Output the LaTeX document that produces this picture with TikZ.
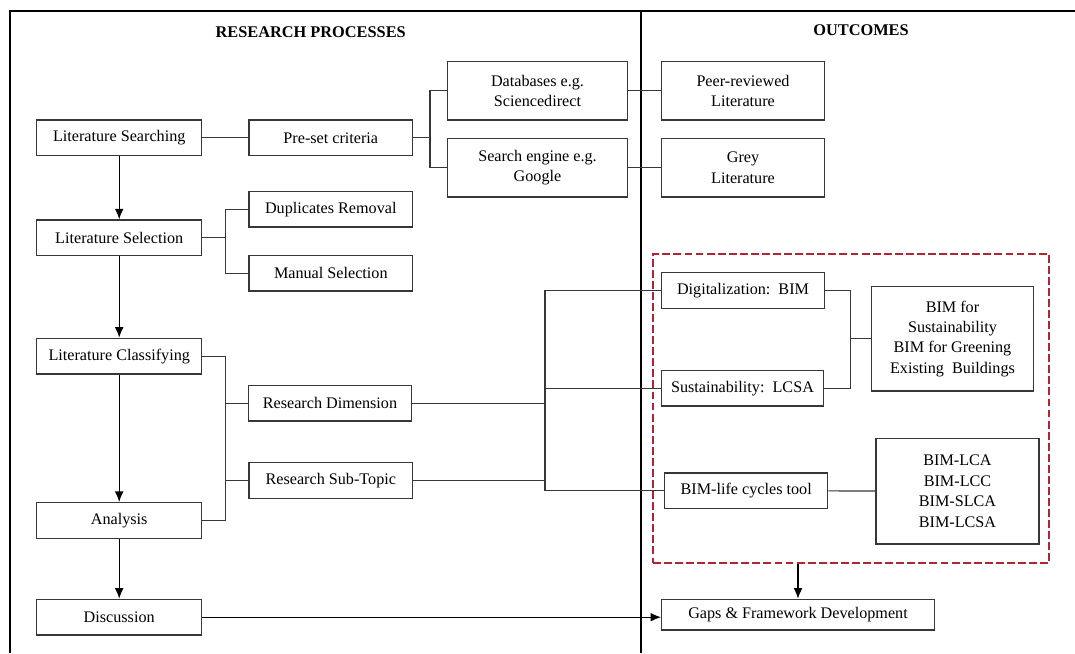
\documentclass[tikz,border=0pt]{standalone}
\usepackage{fontspec}
\setmainfont{Liberation Serif}
\usepackage{tikz}
\usetikzlibrary{arrows}
\usetikzlibrary{arrows.meta}
\usetikzlibrary{calc}
\usepackage{xcolor}

\definecolor{focusred}{RGB}{172,38,52}
\definecolor{linegray}{RGB}{55,55,55}

\tikzset{
  stage/.style={draw=linegray, line width=0.75pt, align=center, inner sep=1pt,
    minimum height=0.714cm, font=\fontsize{9.2}{11.6}\selectfont},
  wire/.style={draw=linegray, line width=0.65pt},
  flow/.style={draw=black, line width=0.7pt, -{Latex[length=6pt,width=5pt]}},
  heading/.style={font=\fontsize{9.3}{11}\selectfont\bfseries}
}

\begin{document}
\begin{tikzpicture}[x=0.02cm,y=-0.02cm]
\useasboundingbox (0,0) rectangle (1075,653);

% frame
\draw[line width=1.2pt] (10,653) -- (10,11) -- (1075,11);
\draw[line width=1.2pt] (641,11) -- (641,653);
\node[heading] (hproc) at (310.7,32) {RESEARCH PROCESSES};
\node[heading] (hout) at (861,30) {OUTCOMES};

% research processes
\node[stage, minimum width=3.3cm] (search) at (119.2,137.8) {Literature Searching};
\node[stage, minimum width=3.3cm] (select) at (119.2,237.8) {Literature Selection};
\node[stage, minimum width=3.3cm] (classify) at (119.2,356.2) {Literature Classifying};
\node[stage, minimum width=3.3cm] (analysis) at (119.2,520.5) {Analysis};
\node[stage, minimum width=3.3cm] (discuss) at (119.2,617.2) {Discussion};

\node[stage, minimum width=3.274cm] (preset) at (330.8,137.8) {Pre-set criteria};
\node[stage, minimum width=3.274cm] (dupl) at (330.8,209.2) {Duplicates Removal};
\node[stage, minimum width=3.274cm] (manual) at (330.8,273.3) {Manual Selection};
\node[stage, minimum width=3.274cm] (resdim) at (330,403.3) {Research Dimension};
\node[stage, minimum width=3.274cm] (subtopic) at (330.8,480.5) {Research Sub-Topic};

\node[stage, minimum width=3.592cm, minimum height=1.174cm] (databases) at (537.5,90.7) {Databases e.g.\\Sciencedirect};
\node[stage, minimum width=3.592cm, minimum height=1.174cm] (engine) at (537.5,167.7) {Search engine e.g.\\Google};

% outcomes
\node[stage, minimum width=3.252cm, minimum height=1.174cm] (peer) at (743,90.7) {Peer-reviewed\\Literature};
\node[stage, minimum width=3.252cm, minimum height=1.174cm] (grey) at (743,167.7) {Grey\\Literature};

\node[draw=focusred, line width=1pt, dash pattern=on 4.5pt off 1.8pt,
  minimum width=7.932cm, minimum height=6.186cm] (focus) at (851,408.7) {};

\node[stage, minimum width=3.252cm] (digital) at (743,290.5) {Digitalization:\ \ BIM};
\node[stage, minimum width=3.232cm] (lcsa) at (742.5,388.3) {Sustainability:\ \ LCSA};
\node[stage, minimum width=3.26cm] (lifetool) at (746.2,490.7) {BIM-life cycles tool};
\node[stage, minimum width=3.232cm, minimum height=2.086cm] (bimsus) at (952.5,338.8)
  {BIM for\\Sustainability\\BIM for Greening\\Existing\ \ Buildings};
\node[stage, minimum width=3.26cm, minimum height=2.114cm] (bimlca) at (957.5,491.2)
  {BIM-LCA\\BIM-LCC\\BIM-SLCA\\BIM-LCSA};
\node[stage, minimum width=5.452cm, minimum height=0.614cm] (gaps) at (798,614.7) {Gaps \& Framework Development};

% junctions
\coordinate (jpre) at (430,137.8);
\coordinate (jsel) at (225.3,237.8);
\coordinate (jcls) at (225.3,403.3);
\coordinate (jmid) at (545,403.3);
\coordinate (jbim) at (850.7,338.8);

% connectors
\draw[wire] (search) -- (preset);
\draw[wire] (preset) -- (jpre);
\draw[wire] (databases.west) -| (jpre);
\draw[wire] (engine.west) -| (jpre);
\draw[wire] (databases) -- (peer);
\draw[wire] (engine) -- (grey);

\draw[wire] (select) -- (jsel);
\draw[wire] (dupl.west) -| (jsel);
\draw[wire] (manual.west) -| (jsel);

\draw[wire] (classify.east) -| (jcls);
\draw[wire] (analysis.east) -| (jcls);
\draw[wire] (resdim) -- (jcls);
\draw[wire] (subtopic.west) -| (jcls);

\draw[wire] (resdim) -- (jmid);
\draw[wire] (subtopic.east) -| (jmid);
\draw[wire] (digital.west) -| (jmid);
\draw[wire] (lcsa.west) -| (jmid);
\draw[wire] (lifetool.west) -| (jmid);

\draw[wire] (digital.east) -| (jbim);
\draw[wire] (lcsa.east) -| (jbim);
\draw[wire] (jbim) -- (bimsus);
\draw[wire] (lifetool) -- (bimlca);

\draw[flow] (search) -- (select);
\draw[flow] (select) -- (classify);
\draw[flow] (classify) -- (analysis);
\draw[flow] (analysis) -- (discuss);
\draw[flow] (discuss.east) -- (discuss.east -| gaps.west);
\draw[flow] (focus.south -| gaps.north) -- (gaps.north);
\end{tikzpicture}
\end{document}
